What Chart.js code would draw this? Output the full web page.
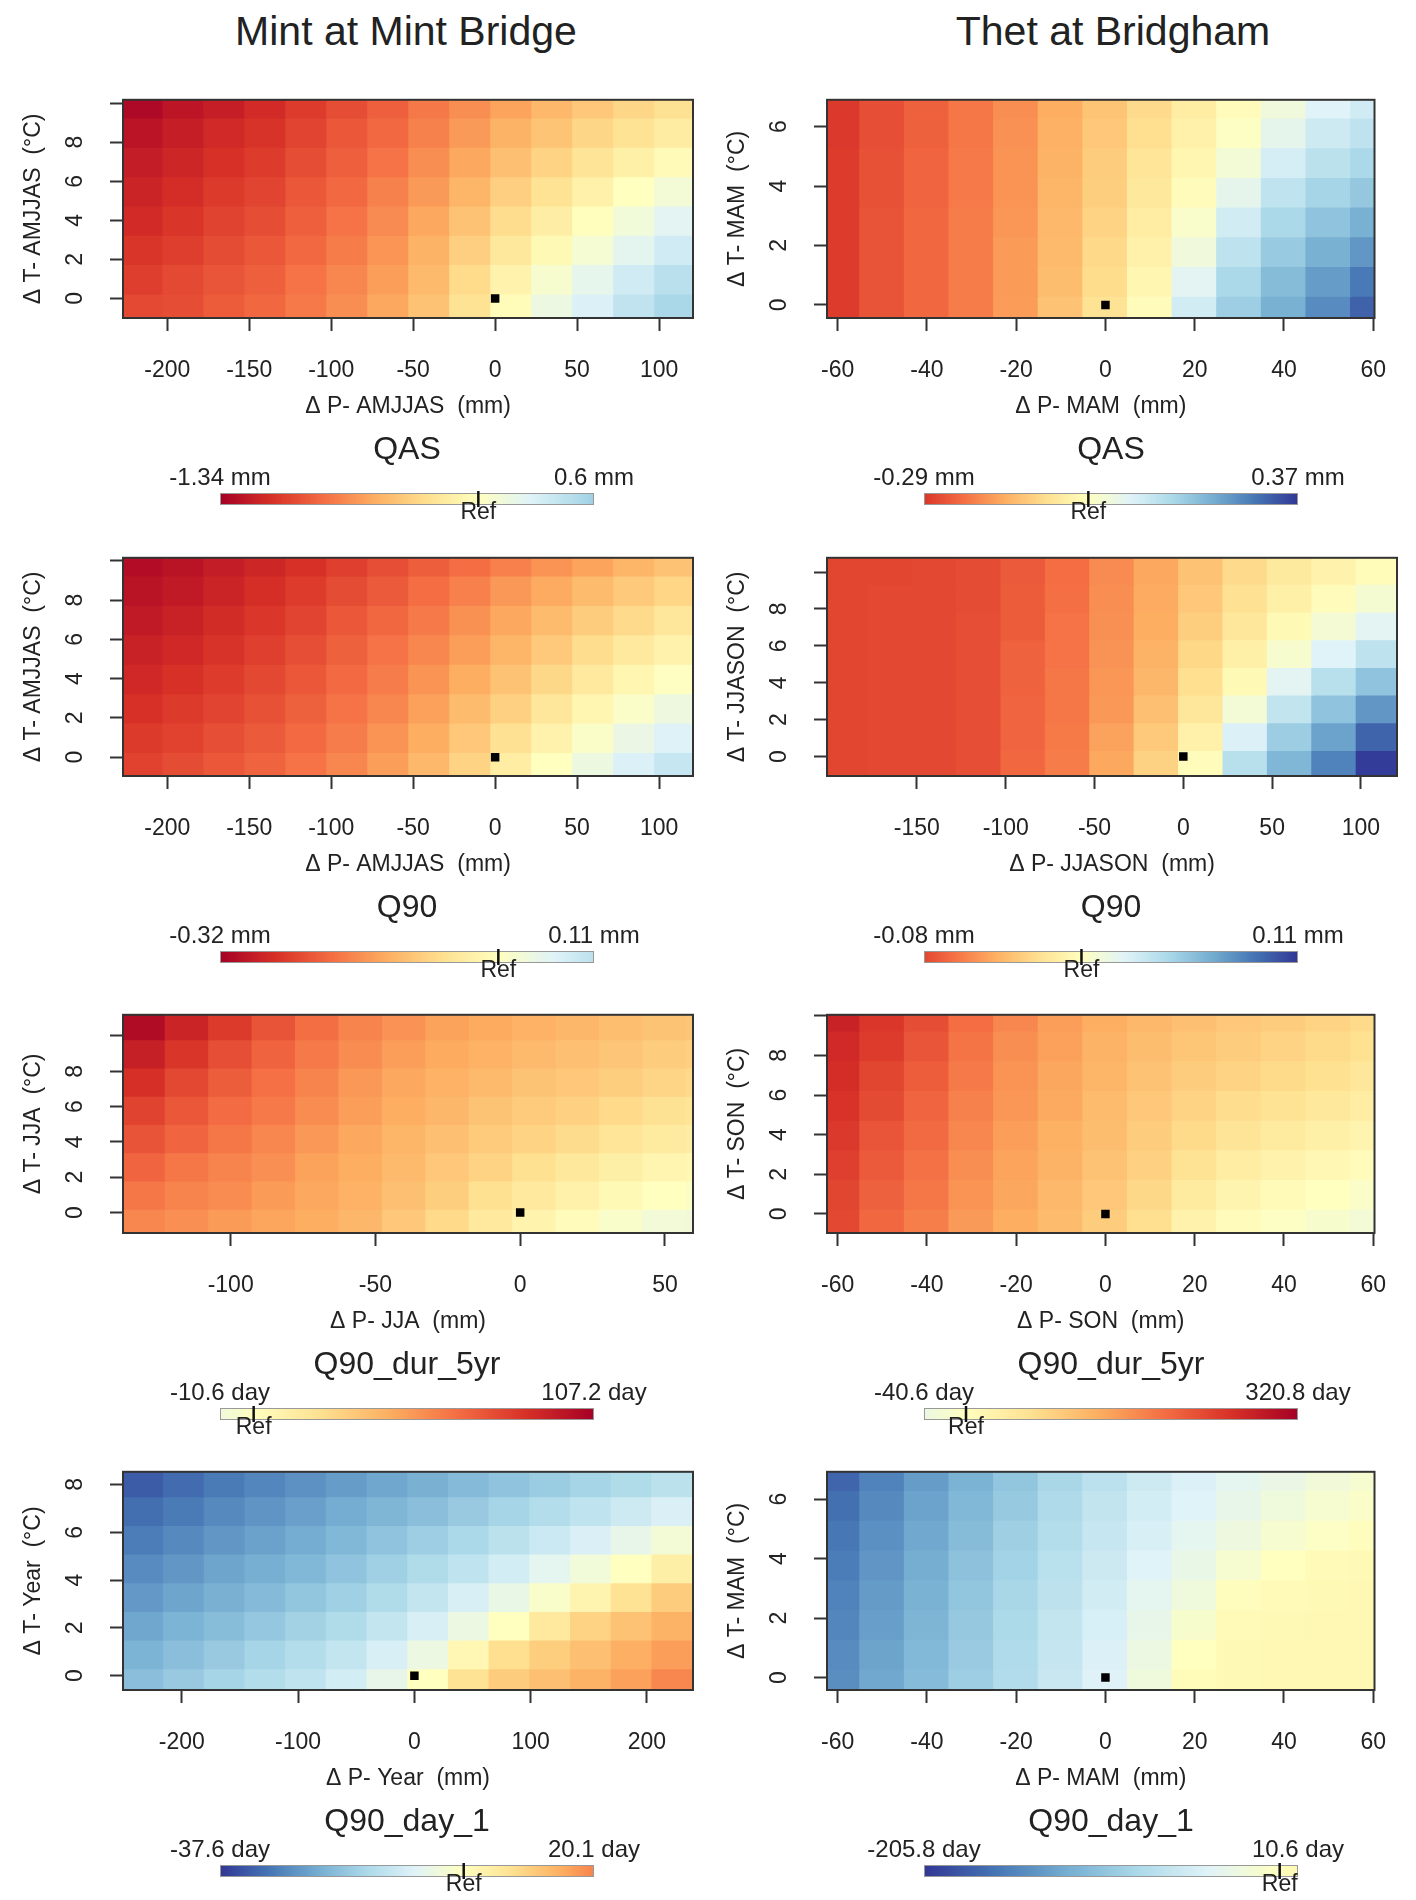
<!DOCTYPE html>
<html>
<head>
<meta charset="utf-8">
<title>Mint / Thet response surfaces</title>
<script src="https://cdn.jsdelivr.net/npm/chart.js@4.4.1/dist/chart.umd.min.js"></script>
<style>
  body { margin: 0; background: #fff; }
  #page { position: relative; width: 1416px; height: 1900px; overflow: hidden;
          font-family: "Liberation Sans", Arial, sans-serif; color: #222; }
  .site { position: absolute; top: 11px; width: 708px; text-align: center;
          font-size: 41px; line-height: 41px; }
  .panel { position: absolute; width: 708px; height: 472px; }
</style>
</head>
<body>
<div id="page">
  <div class="site" style="left:52px">Mint at Mint Bridge</div>
  <div class="site" style="left:759px">Thet at Bridgham</div>
</div>
<script>
// grid of precipitation changes (columns) and temperature changes (rows)
const pMint = [-215, -190, -165, -140, -115, -90, -65, -40, -15, 10, 35, 60, 85, 110];
const tMint = [-0.5, 1, 2.5, 4, 5.5, 7, 8.5, 10];
const pThetMam = [-60, -50, -40, -30, -20, -10, 0, 10, 20, 30, 40, 50, 60];
const tThetMam = [-0.2, 0.8, 1.8, 2.8, 3.8, 4.8, 5.8, 6.8];
const pThetJjason = [-190, -165, -140, -115, -90, -65, -40, -15, 10, 35, 60, 85, 110];
const tThetJjason = [-0.4, 1.1, 2.6, 4.1, 5.6, 7.1, 8.6, 10.1];
const pMintJja = [-130, -115, -100, -85, -70, -55, -40, -25, -10, 5, 20, 35, 50, 65];
const tMintJja = [-0.6, 1, 2.6, 4.2, 5.8, 7.4, 9, 10.6];
const pThetSon = [-60, -50, -40, -30, -20, -10, 0, 10, 20, 30, 40, 50, 60];
const tThetSon = [-0.5, 1, 2.5, 4, 5.5, 7, 8.5, 10];
const pMintYear = [-233, -198, -163, -128, -93, -58, -23, 12, 47, 82, 117, 152, 187, 222];
const tMintYear = [-0.3, 0.9, 2.1, 3.3, 4.5, 5.7, 6.9, 8.1];

// changes, one row per temperature step (bottom row first)
const zMintQas = [
  [-0.96, -0.94, -0.88, -0.83, -0.75, -0.67, -0.56, -0.43, -0.24, -0.03, 0.16, 0.29, 0.43, 0.54],
  [-1.01, -0.96, -0.91, -0.86, -0.78, -0.70, -0.60, -0.47, -0.29, -0.11, 0.07, 0.21, 0.35, 0.46],
  [-1.05, -1.01, -0.95, -0.90, -0.82, -0.74, -0.64, -0.51, -0.36, -0.20, -0.05, 0.09, 0.23, 0.35],
  [-1.10, -1.05, -0.99, -0.94, -0.86, -0.78, -0.68, -0.56, -0.43, -0.28, -0.15, -0.01, 0.12, 0.24],
  [-1.14, -1.09, -1.03, -0.98, -0.90, -0.82, -0.72, -0.62, -0.50, -0.36, -0.24, -0.12, 0.00, 0.11],
  [-1.18, -1.13, -1.07, -1.02, -0.94, -0.86, -0.78, -0.67, -0.56, -0.44, -0.34, -0.23, -0.13, -0.04],
  [-1.23, -1.17, -1.11, -1.06, -0.98, -0.90, -0.82, -0.72, -0.62, -0.51, -0.42, -0.32, -0.24, -0.16],
  [-1.29, -1.22, -1.17, -1.10, -1.02, -0.94, -0.86, -0.76, -0.67, -0.58, -0.48, -0.40, -0.32, -0.25]
];
const zThetQas = [
  [-0.281, -0.252, -0.229, -0.204, -0.167, -0.118, -0.067, -0.007, 0.093, 0.167, 0.215, 0.266, 0.318],
  [-0.281, -0.252, -0.229, -0.204, -0.170, -0.126, -0.078, -0.022, 0.067, 0.148, 0.196, 0.244, 0.289],
  [-0.281, -0.252, -0.229, -0.204, -0.170, -0.130, -0.085, -0.033, 0.037, 0.122, 0.174, 0.215, 0.252],
  [-0.281, -0.252, -0.229, -0.204, -0.174, -0.133, -0.093, -0.044, 0.015, 0.093, 0.148, 0.185, 0.215],
  [-0.281, -0.255, -0.233, -0.207, -0.178, -0.137, -0.100, -0.056, -0.007, 0.059, 0.118, 0.155, 0.178],
  [-0.281, -0.255, -0.233, -0.207, -0.178, -0.141, -0.104, -0.063, -0.022, 0.030, 0.089, 0.126, 0.148],
  [-0.285, -0.259, -0.237, -0.211, -0.181, -0.144, -0.111, -0.074, -0.033, 0.007, 0.059, 0.100, 0.122],
  [-0.285, -0.259, -0.237, -0.211, -0.185, -0.148, -0.115, -0.081, -0.044, -0.007, 0.037, 0.074, 0.096]
];
const zMintQ90 = [
  [-0.237, -0.227, -0.214, -0.202, -0.186, -0.166, -0.144, -0.115, -0.080, -0.038, 0.000, 0.038, 0.070, 0.096],
  [-0.246, -0.237, -0.224, -0.211, -0.195, -0.176, -0.154, -0.128, -0.096, -0.061, -0.026, 0.010, 0.042, 0.067],
  [-0.256, -0.246, -0.234, -0.221, -0.205, -0.186, -0.166, -0.141, -0.112, -0.083, -0.051, -0.019, 0.010, 0.035],
  [-0.266, -0.256, -0.243, -0.230, -0.214, -0.195, -0.176, -0.154, -0.128, -0.102, -0.074, -0.045, -0.019, 0.003],
  [-0.275, -0.266, -0.253, -0.240, -0.224, -0.205, -0.186, -0.166, -0.144, -0.118, -0.093, -0.067, -0.045, -0.026],
  [-0.285, -0.275, -0.262, -0.250, -0.234, -0.214, -0.198, -0.179, -0.157, -0.134, -0.112, -0.090, -0.070, -0.051],
  [-0.294, -0.285, -0.272, -0.259, -0.243, -0.227, -0.211, -0.192, -0.173, -0.150, -0.131, -0.112, -0.093, -0.077],
  [-0.304, -0.294, -0.282, -0.269, -0.256, -0.240, -0.224, -0.208, -0.192, -0.173, -0.154, -0.138, -0.118, -0.102]
];
const zThetQ90 = [
  [-0.080, -0.079, -0.079, -0.077, -0.068, -0.061, -0.046, -0.028, -0.002, 0.039, 0.061, 0.083, 0.108],
  [-0.080, -0.079, -0.079, -0.077, -0.069, -0.062, -0.048, -0.032, -0.010, 0.024, 0.050, 0.070, 0.094],
  [-0.080, -0.079, -0.079, -0.077, -0.069, -0.063, -0.051, -0.036, -0.017, 0.009, 0.035, 0.055, 0.075],
  [-0.080, -0.079, -0.079, -0.077, -0.070, -0.063, -0.052, -0.040, -0.022, -0.004, 0.020, 0.039, 0.055],
  [-0.080, -0.079, -0.079, -0.077, -0.070, -0.064, -0.053, -0.042, -0.026, -0.011, 0.006, 0.022, 0.036],
  [-0.080, -0.079, -0.079, -0.077, -0.072, -0.064, -0.054, -0.044, -0.030, -0.017, -0.004, 0.008, 0.020],
  [-0.080, -0.079, -0.079, -0.078, -0.072, -0.065, -0.055, -0.045, -0.033, -0.021, -0.011, -0.002, 0.007],
  [-0.080, -0.080, -0.079, -0.078, -0.073, -0.066, -0.056, -0.046, -0.035, -0.024, -0.015, -0.009, -0.003]
];
const zMintDur = [
  [56, 53, 49, 46, 43, 39, 32, 24, 15, 8, 2, -4, -9, -10],
  [61, 57, 54, 49, 45, 41, 35, 29, 21, 15, 10, 4, 0, -3],
  [67, 61, 57, 53, 47, 43, 38, 32, 27, 21, 16, 11, 7, 5],
  [73, 67, 61, 56, 50, 45, 40, 35, 31, 27, 23, 18, 14, 12],
  [79, 72, 65, 60, 54, 48, 43, 39, 34, 31, 28, 24, 20, 18],
  [86, 77, 70, 63, 57, 50, 45, 41, 38, 34, 32, 29, 26, 24],
  [93, 84, 75, 68, 60, 54, 48, 44, 41, 38, 35, 33, 30, 28],
  [102, 91, 82, 73, 64, 57, 52, 47, 44, 41, 39, 36, 34, 33]
];
const zThetDur = [
  [231, 199, 176, 148, 128, 112, 90, 64, 26, 6, -6, -16, -26],
  [234, 205, 183, 154, 135, 115, 96, 74, 42, 22, 10, 0, -10],
  [241, 212, 189, 160, 138, 122, 103, 83, 58, 38, 26, 16, 6],
  [247, 218, 196, 167, 144, 125, 109, 90, 71, 55, 42, 32, 22],
  [253, 228, 202, 173, 151, 132, 112, 96, 80, 67, 58, 48, 38],
  [260, 234, 209, 180, 154, 135, 119, 103, 90, 80, 71, 61, 51],
  [266, 244, 218, 186, 160, 141, 122, 109, 99, 90, 80, 71, 61],
  [276, 250, 225, 192, 167, 144, 128, 115, 106, 96, 90, 80, 71]
];
const zMintDay = [
  [-19.6, -17.7, -15.8, -13.9, -12.0, -9.4, -5.6, 0.0, 6.8, 10.5, 12.4, 14.3, 16.5, 19.6],
  [-21.4, -19.6, -17.7, -15.8, -13.9, -11.7, -8.6, -4.5, 1.9, 7.5, 10.2, 12.4, 14.7, 16.9],
  [-23.3, -21.4, -19.9, -18.0, -16.2, -14.3, -11.7, -8.6, -4.5, 0.0, 5.3, 9.4, 12.0, 14.3],
  [-25.2, -23.7, -21.8, -20.3, -18.4, -16.5, -14.3, -11.7, -8.6, -5.3, -1.5, 2.6, 6.8, 10.5],
  [-27.1, -25.6, -23.7, -22.2, -20.7, -18.8, -16.5, -14.3, -12.0, -9.4, -6.4, -3.4, 0.0, 3.8],
  [-29.0, -27.4, -25.6, -24.1, -22.6, -20.7, -18.8, -16.9, -15.0, -12.8, -10.5, -8.3, -5.6, -3.0],
  [-30.8, -29.3, -27.4, -25.9, -24.4, -22.6, -21.1, -19.6, -17.7, -15.8, -13.9, -12.0, -10.2, -8.3],
  [-33.1, -31.2, -29.3, -27.8, -26.3, -24.8, -23.3, -21.8, -20.3, -18.8, -17.3, -15.8, -14.3, -12.8]
];
const zThetDay = [
  [-146, -127, -110, -93, -77, -60, -42, -21, 4, 8, 10, 10, 10],
  [-148, -130, -112, -96, -79, -62, -44, -25, 0, 8, 10, 10, 10],
  [-152, -134, -116, -98, -81, -64, -48, -31, -10, 6, 8, 10, 10],
  [-155, -137, -119, -101, -84, -68, -52, -35, -21, 2, 6, 8, 10],
  [-159, -141, -123, -105, -88, -72, -57, -41, -29, -12, 0, 6, 8],
  [-163, -145, -127, -109, -92, -76, -61, -47, -35, -23, -12, -4, 2],
  [-168, -150, -131, -113, -97, -80, -65, -51, -41, -31, -21, -12, -6],
  [-175, -155, -136, -118, -101, -84, -69, -56, -45, -35, -27, -19, -12]
];

// tick labels
const xTicksMint = [-200, -150, -100, -50, 0, 50, 100];
const xTicksThet = [-60, -40, -20, 0, 20, 40, 60];
const xTicksJjason = [-150, -100, -50, 0, 50, 100];
const xTicksJja = [-100, -50, 0, 50];
const xTicksYear = [-200, -100, 0, 100, 200];
const yTicks10 = [0, 2, 4, 6, 8, 10];
const yTicks8 = [0, 2, 4, 6, 8];
const yTicks6 = [0, 2, 4, 6];

// texts and colour bar ranges, panel by panel (left then right, row by row)
const xTitles = ['Δ P- AMJJAS  (mm)', 'Δ P- MAM  (mm)', 'Δ P- AMJJAS  (mm)', 'Δ P- JJASON  (mm)',
                 'Δ P- JJA  (mm)', 'Δ P- SON  (mm)', 'Δ P- Year  (mm)', 'Δ P- MAM  (mm)'];
const yTitles = ['Δ T- AMJJAS  (°C)', 'Δ T- MAM  (°C)', 'Δ T- AMJJAS  (°C)', 'Δ T- JJASON  (°C)',
                 'Δ T- JJA  (°C)', 'Δ T- SON  (°C)', 'Δ T- Year  (°C)', 'Δ T- MAM  (°C)'];
const cbTitles = ['QAS', 'QAS', 'Q90', 'Q90', 'Q90_dur_5yr', 'Q90_dur_5yr', 'Q90_day_1', 'Q90_day_1'];
const cbMin = [-1.34, -0.29, -0.32, -0.08, -10.6, -40.6, -37.6, -205.8];
const cbMax = [0.6, 0.37, 0.11, 0.11, 107.2, 320.8, 20.1, 10.6];
const cbUnit = ['mm', 'mm', 'mm', 'mm', 'day', 'day', 'day', 'day'];
const refPoint = [{ x: 0, y: 0 }];

const panels = [
  { p: pMint, t: tMint, z: zMintQas, x: [-227, 120.7], y: [-1, 10.17], xTicks: xTicksMint, yTicks: yTicks10, redHigh: false },
  { p: pThetMam, t: tThetMam, z: zThetQas, x: [-62.4, 60.3], y: [-0.44, 6.9], xTicks: xTicksThet, yTicks: yTicks6, redHigh: false },
  { p: pMint, t: tMint, z: zMintQ90, x: [-227, 120.7], y: [-0.96, 10.16], xTicks: xTicksMint, yTicks: yTicks10, redHigh: false },
  { p: pThetJjason, t: tThetJjason, z: zThetQ90, x: [-200.6, 120.3], y: [-1.05, 10.77], xTicks: xTicksJjason, yTicks: yTicks10, redHigh: false },
  { p: pMintJja, t: tMintJja, z: zMintDur, x: [-137.2, 59.7], y: [-1.16, 11.2], xTicks: xTicksJja, yTicks: yTicks10, redHigh: true },
  { p: pThetSon, t: tThetSon, z: zThetDur, x: [-62.4, 60.3], y: [-0.96, 10.05], xTicks: xTicksThet, yTicks: yTicks10, redHigh: true },
  { p: pMintYear, t: tMintYear, z: zMintDay, x: [-250.6, 239.6], y: [-0.6, 8.53], xTicks: xTicksYear, yTicks: yTicks8, redHigh: true },
  { p: pThetMam, t: tThetMam, z: zThetDay, x: [-62.4, 60.3], y: [-0.42, 6.92], xTicks: xTicksThet, yTicks: yTicks6, redHigh: true }
];

const FONT = '"Liberation Sans", Arial, sans-serif';
Chart.defaults.font.family = FONT;
Chart.defaults.color = '#222';

const rowTop = [58, 516, 973, 1430];
const colLeft = [0, 704];
const page = document.getElementById('page');

//RdYlBu, dark red -> dark blue
const rdylbu = ['#a50026', '#d73027', '#f46d43', '#fdae61', '#fee090', '#ffffbf',
                '#e0f3f8', '#abd9e9', '#74add1', '#4575b4', '#313695'];

const hexToRgb = (h) => {
  const n = parseInt(h.slice(1), 16);
  return [n >> 16, (n >> 8) & 255, n & 255];
};

const paletteColor = (pos) => {
  const f = Math.min(Math.max(pos, 0), 1) * (rdylbu.length - 1);
  const i = Math.min(Math.floor(f), rdylbu.length - 2);
  const k = f - i;
  const a = hexToRgb(rdylbu[i]);
  const b = hexToRgb(rdylbu[i + 1]);
  const c = a.map((v, j) => Math.round(v + (b[j] - v) * k));
  return `rgb(${c[0]},${c[1]},${c[2]})`;
};

// scale is symmetric around zero, the larger end gets the darkest colour
const valueColor = (v, lo, hi, redHigh) => {
  const maxAbs = Math.max(Math.abs(lo), Math.abs(hi));
  const s = v / maxAbs;
  const red = redHigh ? s : -s;
  return paletteColor((1 - red) / 2);
};

const makePanel = (k) => {
  const cfg = panels[k];
  const lo = cbMin[k];
  const hi = cbMax[k];
  const half = (cfg.t[1] - cfg.t[0]) / 2;

  const cells = [];
  const fills = [];
  cfg.t.forEach((t, j) => {
    cfg.p.forEach((p, i) => {
      cells.push({ x: p, y: [t - half, t + half] });
      fills.push(valueColor(cfg.z[j][i], lo, hi, cfg.redHigh));
    });
  });

  const box = document.createElement('div');
  box.className = 'panel';
  box.style.left = colLeft[k % 2] + 'px';
  box.style.top = rowTop[Math.floor(k / 2)] + 'px';
  const canvas = document.createElement('canvas');
  canvas.width = 708;
  canvas.height = 472;
  box.appendChild(canvas);
  page.appendChild(box);

  //caja alrededor del grafico
  const frame = {
    id: 'frame',
    afterDatasetsDraw(chart) {
      const { ctx, chartArea: a } = chart;
      ctx.save();
      ctx.strokeStyle = '#333';
      ctx.lineWidth = 2;
      ctx.strokeRect(a.left, a.top, a.right - a.left, a.bottom - a.top);
      ctx.restore();
    }
  };

  // colour bar under each panel
  const colorbar = {
    id: 'colorbar',
    afterDraw(chart) {
      const ctx = chart.ctx;
      const base = chart.chartArea.bottom;
      const x0 = 220;
      const x1 = 594;
      const yb = base + 175;
      const hb = 12;
      ctx.save();
      ctx.fillStyle = '#222';
      ctx.textAlign = 'center';
      ctx.textBaseline = 'middle';
      ctx.font = '32px ' + FONT;
      ctx.fillText(cbTitles[k], (x0 + x1) / 2, base + 132);
      ctx.font = '24px ' + FONT;
      ctx.fillText(`${lo} ${cbUnit[k]}`, x0, base + 160);
      ctx.fillText(`${hi} ${cbUnit[k]}`, x1, base + 160);

      const grad = ctx.createLinearGradient(x0, 0, x1, 0);
      for (let s = 0; s <= 60; s++) {
        grad.addColorStop(s / 60, valueColor(lo + (hi - lo) * s / 60, lo, hi, cfg.redHigh));
      }
      ctx.fillStyle = grad;
      ctx.fillRect(x0, yb, x1 - x0, hb);
      ctx.strokeStyle = '#999';
      ctx.lineWidth = 1;
      ctx.strokeRect(x0 + 0.5, yb + 0.5, x1 - x0 - 1, hb - 1);

      const xr = x0 + (0 - lo) / (hi - lo) * (x1 - x0);
      ctx.strokeStyle = '#111';
      ctx.lineWidth = 2.5;
      ctx.beginPath();
      ctx.moveTo(xr, yb - 2);
      ctx.lineTo(xr, yb + hb + 2);
      ctx.stroke();
      ctx.fillStyle = '#222';
      ctx.font = '23px ' + FONT;
      ctx.fillText('Ref', xr, base + 195);
      ctx.restore();
    }
  };

  new Chart(canvas, {
    type: 'bar',
    data: {
      datasets: [
        {
          type: 'scatter',
          data: refPoint,
          pointStyle: 'rect',
          pointRadius: 6,
          pointHoverRadius: 6,
          backgroundColor: '#000',
          borderWidth: 0,
          order: 0
        },
        {
          type: 'bar',
          data: cells,
          backgroundColor: fills,
          borderWidth: 0,
          barPercentage: 1,
          categoryPercentage: 1,
          grouped: false,
          inflateAmount: 0.8,
          order: 1
        }
      ]
    },
    options: {
      responsive: false,
      animation: false,
      events: [],
      layout: { padding: { left: 0, right: 15, top: 30, bottom: 0 } },
      plugins: { legend: { display: false }, tooltip: { enabled: false } },
      scales: {
        x: {
          type: 'linear',
          min: cfg.x[0],
          max: cfg.x[1],
          offset: false,
          afterBuildTicks: (s) => { s.ticks = cfg.xTicks.map((v) => ({ value: v })); },
          afterFit: (s) => { s.height = 212; },
          border: { display: false },
          grid: { drawOnChartArea: false, offset: false, tickLength: 13, tickWidth: 2, tickColor: '#333' },
          ticks: { font: { size: 23 }, color: '#222', padding: 26, maxRotation: 0, autoSkip: false },
          title: { display: true, text: xTitles[k], font: { size: 23 }, color: '#222', padding: { top: 0, bottom: 110 } }
        },
        y: {
          type: 'linear',
          min: cfg.y[0],
          max: cfg.y[1],
          afterBuildTicks: (s) => { s.ticks = cfg.yTicks.map((v) => ({ value: v })); },
          afterFit: (s) => { s.width = 123; },
          border: { display: false },
          grid: { drawOnChartArea: false, tickLength: 13, tickWidth: 2, tickColor: '#333' },
          ticks: {
            font: { size: 23 }, color: '#222', padding: 28, minRotation: 90, maxRotation: 90,
            crossAlign: 'center', autoSkip: false,
            callback: (v) => (v === 10 ? '' : v)
          },
          title: { display: true, text: yTitles[k], font: { size: 23 }, color: '#222', padding: { top: 20, bottom: 0 } }
        }
      }
    },
    plugins: [frame, colorbar]
  });
};

panels.forEach((_, k) => makePanel(k));
</script>
</body>
</html>
